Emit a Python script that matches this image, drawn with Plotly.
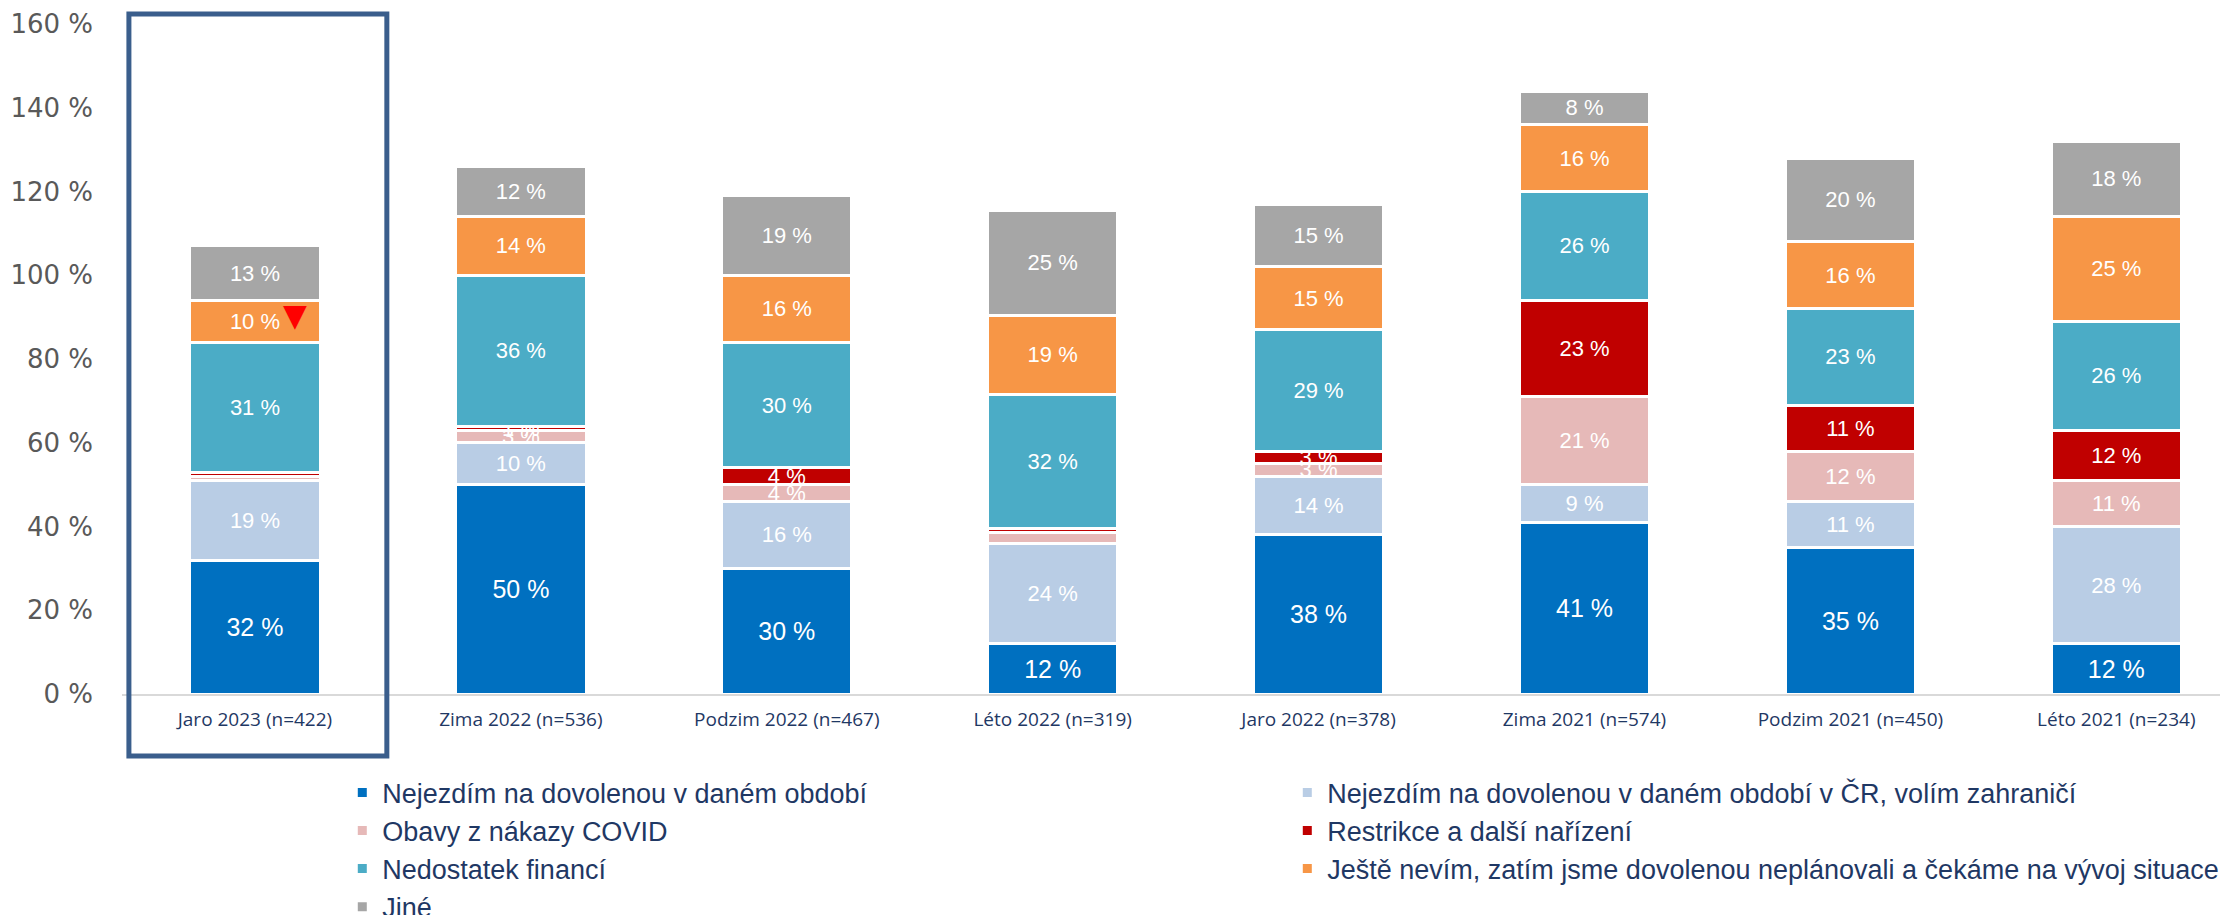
import plotly.graph_objects as go

categories = ["Jaro 2023 (n=422)", "Zima 2022 (n=536)", "Podzim 2022 (n=467)", "Léto 2022 (n=319)",
              "Jaro 2022 (n=378)", "Zima 2021 (n=574)", "Podzim 2021 (n=450)", "Léto 2021 (n=234)"]

series_names = [
    "Nejezdím na dovolenou v daném období",
    "Nejezdím na dovolenou v daném období v ČR, volím zahraničí",
    "Obavy z nákazy COVID",
    "Restrikce a další nařízení",
    "Nedostatek financí",
    "Ještě nevím, zatím jsme dovolenou neplánovali a čekáme na vývoj situace",
    "Jiné",
]

nejezdim = [32, 50, 30, 12, 38, 41, 35, 12]
nejezdim_cr = [19, 10, 16, 24, 14, 9, 11, 28]
covid = [1, 3, 4, 2.5, 3, 21, 12, 11]
restrikce = [1, 1, 4, 1, 3, 23, 11, 12]
financi = [31, 36, 30, 32, 29, 26, 23, 26]
nevim = [10, 14, 16, 19, 15, 16, 16, 25]
jine = [13, 12, 19, 25, 15, 8, 20, 18]

# data labels that are not displayed in the original (series index, category)
hidden_labels = [(2, "Jaro 2023 (n=422)"), (3, "Jaro 2023 (n=422)"),
                 (2, "Léto 2022 (n=319)"), (3, "Léto 2022 (n=319)")]

series_values = [nejezdim, nejezdim_cr, covid, restrikce, financi, nevim, jine]
colors = ["#0070C0", "#B9CDE5", "#E6B9B8", "#C00000", "#4BACC6", "#F79646", "#A6A6A6"]

fig = go.Figure()
for i, (name, vals, col) in enumerate(zip(series_names, series_values, colors)):
    texts = []
    for c, v in zip(categories, vals):
        if (i, c) in hidden_labels:
            texts.append("")
        else:
            texts.append(f"{v:g} %")
    fig.add_trace(go.Bar(
        name=name, x=categories, y=vals, text=texts,
        textposition="inside", insidetextanchor="middle", constraintext="none",
        textangle=0,
        textfont=dict(family="Liberation Sans, Arial", size=25 if i == 0 else 22, color="white"),
        marker=dict(color=col, line=dict(color="white", width=3)),
        width=0.49,
        hoverinfo="skip",
    ))

# red downward triangle marking the decrease of "Ještě nevím" in Jaro 2023
jaro_top_mid = sum(s[0] for s in series_values[:5]) + nevim[0] / 2
fig.add_annotation(x=0.15, y=jaro_top_mid, xref="x", yref="y", text="▼", showarrow=False,
                   yshift=6,
                   font=dict(family="DejaVu Sans", size=31, color="#FF0000"))

# highlight frame around the first category
fig.add_shape(type="rect", xref="x", yref="paper", x0=-0.474, x1=0.496, y0=-0.0925, y1=1.015,
              line=dict(color="#3A5E8C", width=5), fillcolor="rgba(0,0,0,0)", layer="above")

fig.update_layout(
    width=2220, height=915,
    margin=dict(l=122, r=0, t=24, b=221, autoexpand=False),
    barmode="stack",
    plot_bgcolor="white", paper_bgcolor="white",
    showlegend=True,
    legend=dict(
        orientation="h", x=0.105, xanchor="left", y=-0.111, yanchor="top",
        entrywidthmode="pixels", entrywidth=900,
        font=dict(family="Liberation Sans, Arial", size=27, color="#1F3864"),
        itemwidth=30, traceorder="normal",
    ),
    xaxis=dict(
        type="category", range=[-0.5, 7.39],
        showline=True, linecolor="#D9D9D9", linewidth=2,
        ticks="", showgrid=False,
        tickfont=dict(family="Open Sans", size=19, color="#1F3864"),
        ticklabelstandoff=7,
    ),
    yaxis=dict(
        range=[0, 160], dtick=20, ticksuffix=" %",
        showgrid=False, zeroline=False, showline=False, ticks="",
        tickfont=dict(family="DejaVu Sans", size=26, color="#595959"),
        ticklabelstandoff=28,
    ),
)

fig.write_html("out.html", config={"displayModeBar": False},
               post_script="document.body.style.margin='0px';document.body.style.overflow='hidden';")
